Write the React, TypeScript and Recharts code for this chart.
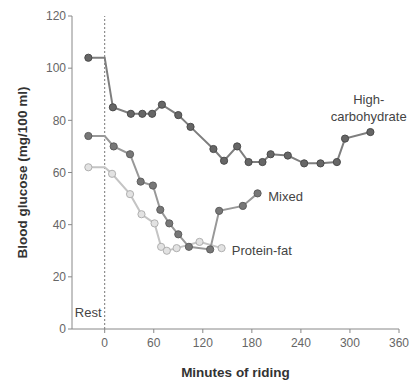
import React from "react";
import {
  LineChart,
  Line,
  XAxis,
  YAxis,
  ReferenceLine,
  ReferenceDot,
  Label,
} from "recharts";

// Minutes of riding (negative = rest) and blood glucose (mg/100 ml)
const highCarbMinutes = [-20, 0, 10, 32, 46, 58, 70, 90, 105, 133, 146, 162, 176, 193, 203, 224, 244, 264, 284, 294, 325];
const highCarbGlucose = [104, 104, 85, 82.5, 82.5, 82.5, 86, 82, 77.5, 69, 64.5, 70, 64, 64, 67, 66.5, 63.5, 63.5, 64, 73, 75.5];

const mixedMinutes = [-20, 0, 11, 31, 44, 59, 68, 79, 90, 103, 129, 140, 169, 187];
const mixedGlucose = [74, 74, 70, 67, 56.5, 55, 45.7, 40.5, 36.3, 31.5, 30.5, 45.3, 47.2, 52];

const proteinFatMinutes = [-20, 0, 9, 31, 45, 61, 69, 76, 88, 116, 143];
const proteinFatGlucose = [62, 62, 59.5, 51.7, 44, 40.5, 31.5, 30, 31, 33.4, 31];

const xTicks = [0, 60, 120, 180, 240, 300, 360];
const yTicks = [0, 20, 40, 60, 80, 100, 120];

const toRows = (ts: number[], gs: number[]) => ts.map((t, i) => ({ t, g: gs[i] }));

const highCarb = toRows(highCarbMinutes, highCarbGlucose);
const mixed = toRows(mixedMinutes, mixedGlucose);
const proteinFat = toRows(proteinFatMinutes, proteinFatGlucose);

const makeDot = (fill: string, stroke: string) => (props: any) => {
  const { cx, cy, payload, index } = props;
  if (payload.t === 0) return <g key={`d${index}`} />;
  return (
    <circle key={`d${index}`} cx={cx} cy={cy} r={3.6} fill={fill} stroke={stroke} strokeWidth={1} />
  );
};

const FONT = "'Liberation Sans', Arial, Helvetica, sans-serif";
const labelStyle = { fill: "#444", fontSize: 13, fontFamily: FONT };

export default function App() {
  return (
    <LineChart
      width={411}
      height={384}
      margin={{ top: 8, right: 20, bottom: 13, left: 14 }}
      style={{ fontFamily: FONT }}
    >
      <XAxis
        type="number"
        dataKey="t"
        domain={[-40, 360]}
        ticks={xTicks}
        allowDataOverflow
        height={50}
        tickSize={4}
        tickMargin={5}
        stroke="#888"
        tick={{ fill: "#666", fontSize: 12 }}
      >
        <Label
          value="Minutes of riding"
          position="insideBottom"
          offset={2}
          style={{ fill: "#333", fontSize: 13.5, fontWeight: "bold", fontFamily: FONT }}
        />
      </XAxis>
      <YAxis
        type="number"
        dataKey="g"
        domain={[0, 120]}
        ticks={yTicks}
        width={50}
        tickSize={4}
        tickMargin={2}
        stroke="#888"
        tick={{ fill: "#666", fontSize: 12 }}
      >
        <Label
          value="Blood glucose (mg/100 ml)"
          angle={-90}
          position="insideLeft"
          offset={0}
          style={{ fill: "#333", fontSize: 13.5, fontWeight: "bold", fontFamily: FONT, textAnchor: "middle" }}
        />
      </YAxis>
      <ReferenceLine x={0} stroke="#777" strokeDasharray="2 2" strokeWidth={1} />
      <Line
        data={proteinFat}
        dataKey="g"
        stroke="#c4c4c4"
        strokeWidth={2}
        dot={makeDot("#e2e2e2", "#b0b0b0")}
        isAnimationActive={false}
      />
      <Line
        data={mixed}
        dataKey="g"
        stroke="#989898"
        strokeWidth={2}
        dot={makeDot("#777777", "#5e5e5e")}
        isAnimationActive={false}
      />
      <Line
        data={highCarb}
        dataKey="g"
        stroke="#7e7e7e"
        strokeWidth={2}
        dot={makeDot("#666666", "#4a4a4a")}
        isAnimationActive={false}
      />
      <ReferenceDot x={200} y={51} r={0} stroke="none" fill="none">
        <Label value="Mixed" position="right" offset={0} style={labelStyle} />
      </ReferenceDot>
      <ReferenceDot x={155.5} y={30} r={0} stroke="none" fill="none">
        <Label value="Protein-fat" position="right" offset={0} style={labelStyle} />
      </ReferenceDot>
      <ReferenceDot x={323} y={88} r={0} stroke="none" fill="none">
        <Label value="High-" position="center" style={labelStyle} />
      </ReferenceDot>
      <ReferenceDot x={323} y={81.7} r={0} stroke="none" fill="none">
        <Label value="carbohydrate" position="center" style={labelStyle} />
      </ReferenceDot>
      <ReferenceDot x={-36.5} y={6.2} r={0} stroke="none" fill="none">
        <Label value="Rest" position="right" offset={0} style={labelStyle} />
      </ReferenceDot>
    </LineChart>
  );
}
